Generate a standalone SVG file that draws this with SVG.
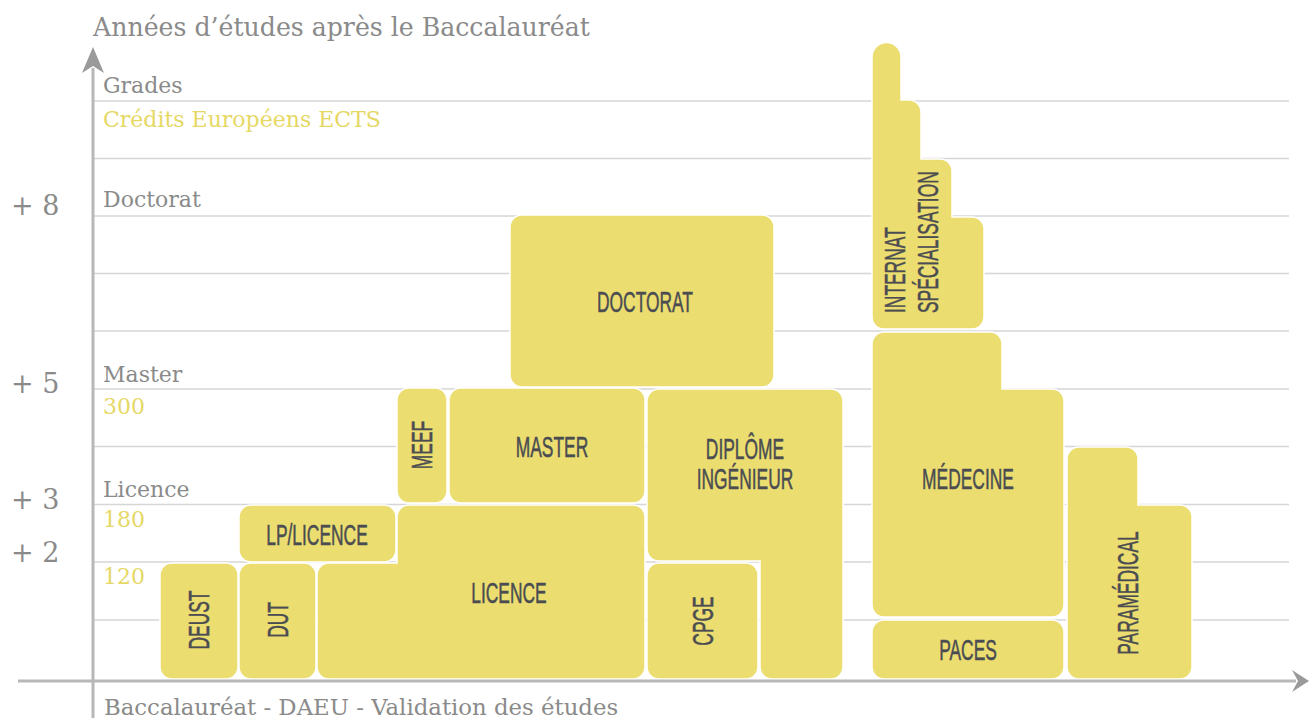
<svg xmlns="http://www.w3.org/2000/svg" width="1309" height="718" viewBox="0 0 1309 718">
<style>
.grid{stroke:#d6d6d6;stroke-width:1.5}
.axis{stroke:#b8b8b8;stroke-width:3}
.ah{fill:#9a9a9a}
.box{fill:#ebdd6f;stroke:#ffffff;stroke-width:1.5}
.lab{font-family:"Liberation Sans",Arial,sans-serif;font-size:29px;fill:#4a4c52;stroke:#4a4c52;stroke-width:0.5;text-anchor:middle}
.g{font-family:"DejaVu Serif",Georgia,serif;fill:#8a8a8a}
.y{font-family:"DejaVu Serif",Georgia,serif;fill:#e6d865}
</style>
<rect width="1309" height="718" fill="#ffffff"/>
<g id="grid">
<line class="grid" x1="93" y1="101" x2="1289" y2="101"/>
<line class="grid" x1="93" y1="158.5" x2="1289" y2="158.5"/>
<line class="grid" x1="93" y1="216" x2="1289" y2="216"/>
<line class="grid" x1="93" y1="273.5" x2="1289" y2="273.5"/>
<line class="grid" x1="93" y1="331" x2="1289" y2="331"/>
<line class="grid" x1="93" y1="389" x2="1289" y2="389"/>
<line class="grid" x1="93" y1="446.5" x2="1289" y2="446.5"/>
<line class="grid" x1="93" y1="504.5" x2="1289" y2="504.5"/>
<line class="grid" x1="93" y1="562" x2="1289" y2="562"/>
<line class="grid" x1="93" y1="620" x2="1289" y2="620"/>
</g>
<g id="labels-axis">
<text class="g" x="93" y="36" font-size="25.2">Années d’études après le Baccalauréat</text>
<text class="g" x="103" y="93" font-size="22">Grades</text>
<text class="y" x="103" y="127" font-size="22">Crédits Européens ECTS</text>
<text class="g" x="103" y="207" font-size="22">Doctorat</text>
<text class="g" x="103" y="382" font-size="22">Master</text>
<text class="y" x="103" y="414" font-size="22">300</text>
<text class="g" x="103" y="497" font-size="22">Licence</text>
<text class="y" x="103" y="527" font-size="22">180</text>
<text class="y" x="103" y="584" font-size="22">120</text>
<text class="g" x="11" y="215" font-size="27">+ 8</text>
<text class="g" x="11" y="393" font-size="27">+ 5</text>
<text class="g" x="11" y="509" font-size="27">+ 3</text>
<text class="g" x="11" y="562" font-size="27">+ 2</text>
<text class="g" x="104" y="715" font-size="22.8">Baccalauréat - DAEU - Validation des études</text>
</g>
<g id="deust"><rect class="box" x="160" y="563" width="78" height="116" rx="12"/><text class="lab" transform="translate(199,620) rotate(-90) scale(0.6,1)" y="10.4">DEUST</text></g>
<g id="dut"><rect class="box" x="239" y="563" width="77" height="116" rx="12"/><text class="lab" transform="translate(278,620) rotate(-90) scale(0.6,1)" y="10.4">DUT</text></g>
<g id="lp-licence"><rect class="box" x="239" y="505" width="157" height="57" rx="12"/><text class="lab" transform="translate(317,535) scale(0.6,1)" y="10.4">LP/LICENCE</text></g>
<g id="licence"><path class="box" d="M409,505 H633 A12,12 0 0 1 645,517 V667 A12,12 0 0 1 633,679 H329 A12,12 0 0 1 317,667 V575 A12,12 0 0 1 329,563 H397 V517 A12,12 0 0 1 409,505 Z"/><text class="lab" transform="translate(509,593) scale(0.6,1)" y="10.4">LICENCE</text></g>
<g id="meef"><rect class="box" x="397" y="388" width="50" height="115" rx="12"/><text class="lab" transform="translate(422,445) rotate(-90) scale(0.6,1)" y="10.4">MEEF</text></g>
<g id="master"><rect class="box" x="449" y="388" width="196" height="115" rx="12"/><text class="lab" transform="translate(552,447) scale(0.6,1)" y="10.4">MASTER</text></g>
<g id="doctorat"><rect class="box" x="510" y="215" width="264" height="172" rx="12"/><text class="lab" transform="translate(645,302) scale(0.6,1)" y="10.4">DOCTORAT</text></g>
<g id="diplome-ingenieur"><path class="box" d="M659,389 H831 A12,12 0 0 1 843,401 V667 A12,12 0 0 1 831,679 H772 A12,12 0 0 1 760,667 V561 H659 A12,12 0 0 1 647,549 V401 A12,12 0 0 1 659,389 Z"/><text class="lab" transform="translate(745,449) scale(0.6,1)" y="10.4">DIPLÔME</text><text class="lab" transform="translate(745,479) scale(0.6,1)" y="10.4">INGÉNIEUR</text></g>
<g id="cpge"><rect class="box" x="647" y="563" width="111" height="116" rx="12"/><text class="lab" transform="translate(703,621) rotate(-90) scale(0.6,1)" y="10.4">CPGE</text></g>
<g id="internat"><path class="box" d="M872,57 A14.5,14.5 0 0 1 901,57 V100 H909 A12,12 0 0 1 921,112 V159 H940 A12,12 0 0 1 952,171 V217 H972 A12,12 0 0 1 984,229 V317 A12,12 0 0 1 972,329 H884 A12,12 0 0 1 872,317 Z"/><text class="lab" style="text-anchor:start" transform="translate(905,313) rotate(-90) scale(0.6,1)">INTERNAT</text><text class="lab" style="text-anchor:start" transform="translate(938,313) rotate(-90) scale(0.6,1)">SPÉCIALISATION</text></g>
<g id="medecine"><path class="box" d="M884,332 H990 A12,12 0 0 1 1002,344 V389 H1052 A12,12 0 0 1 1064,401 V605 A12,12 0 0 1 1052,617 H884 A12,12 0 0 1 872,605 V344 A12,12 0 0 1 884,332 Z"/><text class="lab" transform="translate(968,479) scale(0.6,1)" y="10.4">MÉDECINE</text></g>
<g id="paces"><rect class="box" x="872" y="620" width="192" height="59" rx="12"/><text class="lab" transform="translate(968,650) scale(0.6,1)" y="10.4">PACES</text></g>
<g id="paramedical"><path class="box" d="M1079,447 H1126 A12,12 0 0 1 1138,459 V505 H1180 A12,12 0 0 1 1192,517 V667 A12,12 0 0 1 1180,679 H1079 A12,12 0 0 1 1067,667 V459 A12,12 0 0 1 1079,447 Z"/><text class="lab" transform="translate(1128,593) rotate(-90) scale(0.6,1)" y="10.4">PARAMÉDICAL</text></g>
<g id="connectors">
<line class="axis" x1="93" y1="68" x2="93" y2="718"/>
<line class="axis" x1="18" y1="681" x2="1296" y2="681"/>
<polygon class="ah" points="93,47 104,73 93,66 82,73"/>
<polygon class="ah" points="1309,681 1292,692 1298,681 1292,670"/>
</g>
</svg>
